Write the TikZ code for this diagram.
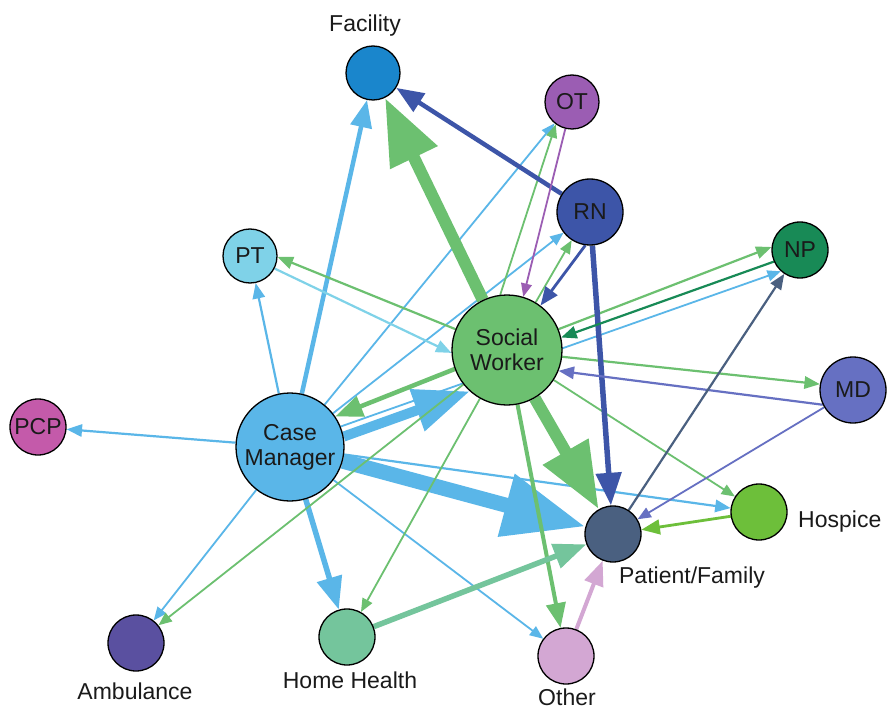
\documentclass[tikz,border=0pt]{standalone}
\usepackage{fontspec}
\setmainfont{Liberation Sans}
\usetikzlibrary{arrows.meta}
\pgfdeclarelayer{edges}
\pgfdeclarelayer{bg}
\pgfsetlayers{bg,edges,main}
\definecolor{cFac}{HTML}{1A86CC}
\definecolor{cOT}{HTML}{9B5DB3}
\definecolor{cRN}{HTML}{3D55A8}
\definecolor{cPT}{HTML}{7FD2E8}
\definecolor{cNP}{HTML}{188A56}
\definecolor{cSW}{HTML}{6CC070}
\definecolor{cMD}{HTML}{6670C2}
\definecolor{cPCP}{HTML}{C45AAA}
\definecolor{cCM}{HTML}{5AB6E8}
\definecolor{cHos}{HTML}{6DBF3A}
\definecolor{cPF}{HTML}{4A6080}
\definecolor{cAmb}{HTML}{5A50A0}
\definecolor{cHH}{HTML}{74C59C}
\definecolor{cOth}{HTML}{D3A7D3}
\definecolor{txt}{HTML}{1A1A1A}
\tikzset{
  nd/.style 2 args={circle, draw=black, line width=1.3pt, fill=#1, minimum size=#2, inner sep=0pt,
     font=\fontsize{23}{25}\selectfont, text=txt, align=center},
  lbl/.style={font=\fontsize{23}{25}\selectfont, text=txt, inner sep=0pt, anchor=base},
  ed/.style={line width=#1, -{Triangle[length=4pt 5.2, width=4pt 3.8]}}
}
\begin{document}
\begin{tikzpicture}[x=1pt,y=-1pt]
\begin{pgfonlayer}{bg}
\fill[white] (0,0) rectangle (888,711);
\end{pgfonlayer}
\useasboundingbox (0,0) rectangle (888,711);
% nodes
\node[nd={cFac}{54pt}] (fac) at (373,73) {};
\node[nd={cOT}{54pt}] (ot) at (572,102) {OT};
\node[nd={cRN}{66pt}] (rn) at (590,212) {RN};
\node[nd={cPT}{54pt}] (pt) at (250,256) {PT};
\node[nd={cNP}{56pt}] (np) at (800,250) {NP};
\node[nd={cSW}{110pt}] (sw) at (507,350) {Social\\Worker};
\node[nd={cMD}{66pt}] (md) at (853,390) {MD};
\node[nd={cPCP}{56pt}] (pcp) at (38,427) {PCP};
\node[nd={cCM}{108pt}] (cm) at (290,447) {Case\\Manager};
\node[nd={cHos}{56pt}] (hos) at (759,512) {};
\node[nd={cPF}{56pt}] (pf) at (613,534) {};
\node[nd={cAmb}{56pt}] (amb) at (136,643) {};
\node[nd={cHH}{56pt}] (hh) at (347,637) {};
\node[nd={cOth}{56pt}] (oth) at (566,656) {};
% labels
\node[lbl] (facL) at (365,32) {Facility};
\node[lbl, anchor=base west] (hosL) at (798,527) {Hospice};
\node[lbl] (pfL) at (692,583) {Patient/Family};
\node[lbl] (ambL) at (135,699) {Ambulance};
\node[lbl] (hhL) at (350,688) {Home Health};
\node[lbl] (othL) at (567,705) {Other};
% edges
\begin{pgfonlayer}{edges}
% from Case Manager
\draw[ed=4.5, cCM] (cm) -- (fac);
\draw[ed=1.8, cCM] (cm) -- (ot);
\draw[ed=1.8, cCM] (cm) -- (rn);
\draw[ed=2.2, cCM] (cm) -- (pt);
\draw[ed=1.8, cCM] (cm.22) -- (np.228);
\draw[ed=10, cCM] (cm.11) -- (sw.228);
\draw[ed=15, cCM] (cm) -- (pf);
\draw[ed=2.2, cCM] (cm) -- (hos);
\draw[ed=2.2, cCM] (cm) -- (pcp);
\draw[ed=1.8, cCM] (cm) -- (amb);
\draw[ed=5.5, cCM] (cm) -- (hh);
\draw[ed=1.8, cCM] (cm) -- (oth);
% from Social Worker
\draw[ed=12, cSW] (sw) -- (fac);
\draw[ed=1.8, cSW] (sw.97) -- (ot.234);
\draw[ed=1.8, cSW] (sw.59) -- (rn.237);
\draw[ed=2.2, cSW] (sw.158) -- (pt.358);
\draw[ed=2.2, cSW] (sw.22) -- (np.174);
\draw[ed=2.2, cSW] (sw.353) -- (md.170);
\draw[ed=1.8, cSW] (sw) -- (hos);
\draw[ed=12, cSW] (sw) -- (pf);
\draw[ed=4.5, cSW] (sw.200) -- (cm.34);
\draw[ed=1.8, cSW] (sw) -- (amb);
\draw[ed=1.8, cSW] (sw) -- (hh);
\draw[ed=4, cSW] (sw) -- (oth);
% others
\draw[ed=4.5, cRN] (rn) -- (fac);
\draw[ed=2.8, cRN] (rn.262) -- (sw.53);
\draw[ed=5.5, cRN] (rn) -- (pf);
\draw[ed=1.8, cOT] (ot.256) -- (sw.73);
\draw[ed=2.2, cPT] (pt.333) -- (sw.183);
\draw[ed=2.2, cNP] (np.204) -- (sw.13);
\draw[ed=2.2, cMD] (md.206) -- (sw.338);
\draw[ed=1.8, cMD] (md) -- (pf);
\draw[ed=2.2, cPF] (pf) -- (np);
\draw[ed=2.8, cHos] (hos) -- (pf);
\draw[ed=5.5, cHH] (hh) -- (pf);
\draw[ed=4, cOth] (oth) -- (pf);
\end{pgfonlayer}
\end{tikzpicture}
\end{document}
